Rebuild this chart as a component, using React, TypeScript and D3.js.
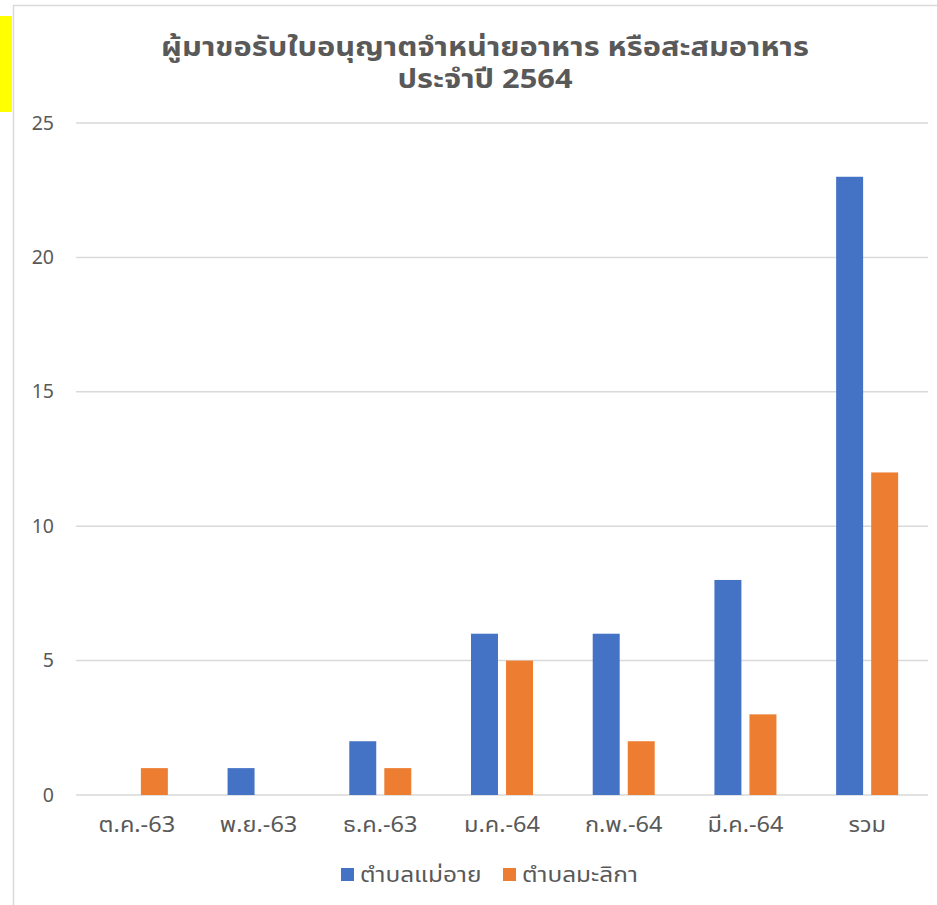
import React from "react";
import * as d3 from "d3";

const categories = ["ต.ค.-63", "พ.ย.-63", "ธ.ค.-63", "ม.ค.-64", "ก.พ.-64", "มี.ค.-64", "รวม"];
const seriesNames = ["ตำบลแม่อาย", "ตำบลมะลิกา"];
const maeAi = [0, 1, 2, 6, 6, 8, 23];
const malika = [1, 0, 1, 5, 2, 3, 12];
const yTicks = [0, 5, 10, 15, 20, 25];
const colors = ["#4472C4", "#ED7D31"];
const titleLines = ["ผู้มาขอรับใบอนุญาตจำหน่ายอาหาร หรือสะสมอาหาร", "ประจำปี 2564"];

const W = 937;
const H = 905;
const FONT = "Tahoma, 'Noto Sans Thai', 'Noto Sans', 'DejaVu Sans', sans-serif";

export default function App() {
  const plotL = 76, plotR = 928, plotT = 123, plotB = 795;
  const x = d3.scaleBand<string>().domain(categories).range([plotL, plotR]).paddingInner(0).paddingOuter(0);
  const y = d3.scaleLinear().domain([0, 25]).range([plotB, plotT]);
  const inner = d3.scaleBand<string>().domain(seriesNames).range([0, 62]).paddingInner(0.23);
  const series = [maeAi, malika];
  const bw = x.bandwidth();

  return (
    <svg width={W} height={H} style={{ position: "absolute", left: 0, top: 0, background: "#fff" }} fontFamily={FONT}>
      <rect x={0} y={0} width={W} height={H} fill="#fff" />
      <rect x={0} y={16} width={12} height={96} fill="#FFFF00" />
      <line x1={13.5} y1={5} x2={13.5} y2={H} stroke="#d9d9d9" strokeWidth={1.5} />
      <line x1={13} y1={5.5} x2={W} y2={5.5} stroke="#d9d9d9" strokeWidth={1.5} />
      {titleLines.map((t, i) => (
        <text
          key={i}
          transform={`translate(485,${56 + i * 32}) scale(1.14,1)`}
          textAnchor="middle"
          fontSize={27}
          fontWeight="bold"
          fill="#595959"
        >
          {t}
        </text>
      ))}
      {yTicks.map((t) => (
        <g key={t}>
          <line x1={plotL} x2={plotR} y1={y(t)} y2={y(t)} stroke="#d9d9d9" strokeWidth={1.5} />
          <text x={54} y={y(t) + 6.5} textAnchor="end" fontSize={19.5} fill="#595959">
            {t}
          </text>
        </g>
      ))}
      {categories.map((c, ci) => {
        const cx = (x(c) as number) + bw / 2;
        const gx = cx - 31;
        return (
          <g key={c}>
            {series.map((s, si) =>
              s[ci] > 0 ? (
                <rect
                  key={si}
                  x={gx + (inner(seriesNames[si]) as number)}
                  y={y(s[ci])}
                  width={inner.bandwidth()}
                  height={y(0) - y(s[ci])}
                  fill={colors[si]}
                />
              ) : null
            )}
            <text
              transform={`translate(${cx},832) scale(1.07,1)`}
              textAnchor="middle"
              fontSize={22}
              fill="#595959"
            >
              {c}
            </text>
          </g>
        );
      })}
      <g>
        <rect x={341} y={868} width={13} height={13} fill={colors[0]} />
        <text transform="translate(360,882) scale(1.11,1)" fontSize={22} fill="#595959">{seriesNames[0]}</text>
        <rect x={503} y={868} width={13} height={13} fill={colors[1]} />
        <text transform="translate(522,882) scale(1.11,1)" fontSize={22} fill="#595959">{seriesNames[1]}</text>
      </g>
    </svg>
  );
}
